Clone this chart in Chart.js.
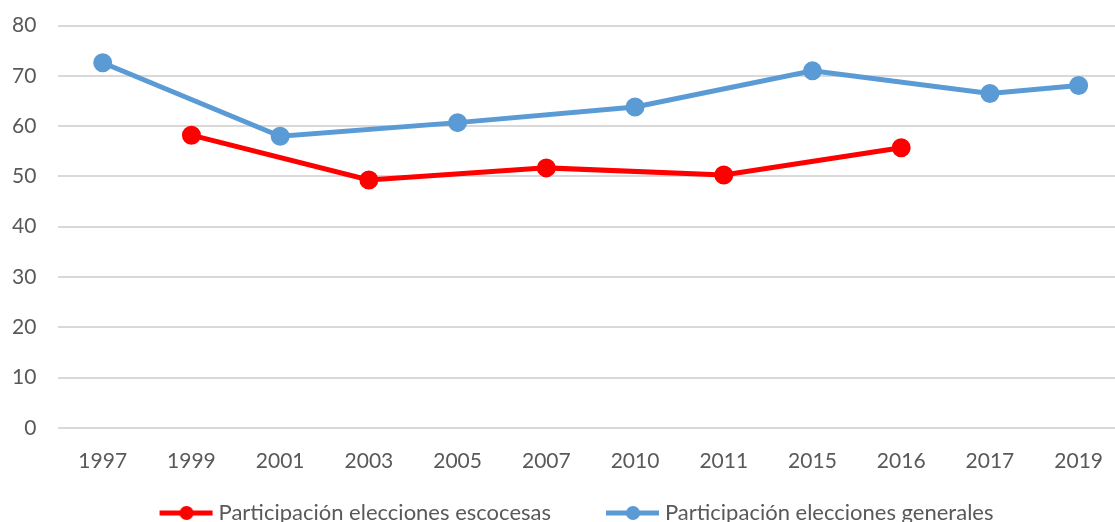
<!DOCTYPE html>
<html>
<head>
<meta charset="utf-8">
<script src="https://cdn.jsdelivr.net/npm/chart.js@4"></script>
<style>
  html, body { margin: 0; padding: 0; background: #fff; overflow: hidden; }
  .wrap { position: relative; width: 1136px; height: 543px; margin-top: -9px; }
</style>
</head>
<body>
<div class="wrap"><canvas id="chart1"></canvas></div>
<script>
const years = ['1997', '1999', '2001', '2003', '2005', '2007', '2010', '2011', '2015', '2016', '2017', '2019'];
const escocesas = [null, 58.2, null, 49.3, null, 51.7, null, 50.3, null, 55.7, null, null];
const generales = [72.6, null, 58.0, null, 60.7, null, 63.8, null, 71.0, null, 66.5, 68.1];
const yTicks = [0, 10, 20, 30, 40, 50, 60, 70, 80];

// legend marker: line with a dot, transparent space on the left
const markerBox = 88;
function legendMarker(color) {
    const c = document.createElement('canvas');
    c.width = markerBox + 12;
    c.height = 16;
    const g = c.getContext('2d');
    g.strokeStyle = color;
    g.lineWidth = 5;
    g.beginPath();
    g.moveTo(c.width - 54, 8);
    g.lineTo(c.width - 1, 8);
    g.stroke();
    g.fillStyle = color;
    g.beginPath();
    g.arc(c.width - 27, 8, 7, 0, Math.PI * 2);
    g.fill();
    return c;
}

const ctx = document.getElementById('chart1');
const chart1 = new Chart(ctx, {
    type: 'line',
    data: {
        labels: years,
        datasets: [{
            label: 'Participación elecciones escocesas',
            data: escocesas,
            borderColor: '#FF0000',
            backgroundColor: '#FF0000',
            borderWidth: 5,
            pointRadius: 7,
            pointHoverRadius: 7,
            spanGaps: true,
            marker: legendMarker('#FF0000')
        }, {
            label: 'Participación elecciones generales',
            data: generales,
            borderColor: '#5B9BD5',
            backgroundColor: '#5B9BD5',
            borderWidth: 5,
            pointRadius: 7,
            pointHoverRadius: 7,
            spanGaps: true,
            marker: legendMarker('#5B9BD5')
        }]
    },
    options: {
        responsive: true,
        maintainAspectRatio: false,
        animation: false,
        layout: {
            padding: { left: -10, top: 6, right: 13, bottom: 0 }
        },
        scales: {
            x: {
                offset: true,
                grid: { display: false },
                border: { display: false },
                ticks: {
                    color: '#595959',
                    padding: 13,
                    maxRotation: 0,
                    font: { family: 'Lato', size: 21 }
                }
            },
            y: {
                min: 0,
                max: 80,
                afterBuildTicks: axis => { axis.ticks = yTicks.map(v => ({ value: v })) },
                grid: { color: '#D9D9D9', lineWidth: 2, drawTicks: false },
                border: { display: false },
                ticks: {
                    color: '#595959',
                    padding: 22,
                    font: { family: 'Lato', size: 21 }
                }
            }
        },
        plugins: {
            tooltip: { enabled: false },
            legend: {
                position: 'bottom',
                labels: {
                    color: '#595959',
                    font: { family: 'Lato', size: 22 },
                    usePointStyle: true,
                    pointStyleWidth: markerBox,
                    padding: 15,
                    generateLabels: chart => chart.data.datasets.map((ds, i) => ({
                        text: ds.label,
                        pointStyle: ds.marker,
                        fontColor: '#595959',
                        lineWidth: 0,
                        strokeStyle: 'transparent',
                        fillStyle: 'transparent',
                        datasetIndex: i
                    }))
                }
            }
        }
    }
});
</script>
</body>
</html>
